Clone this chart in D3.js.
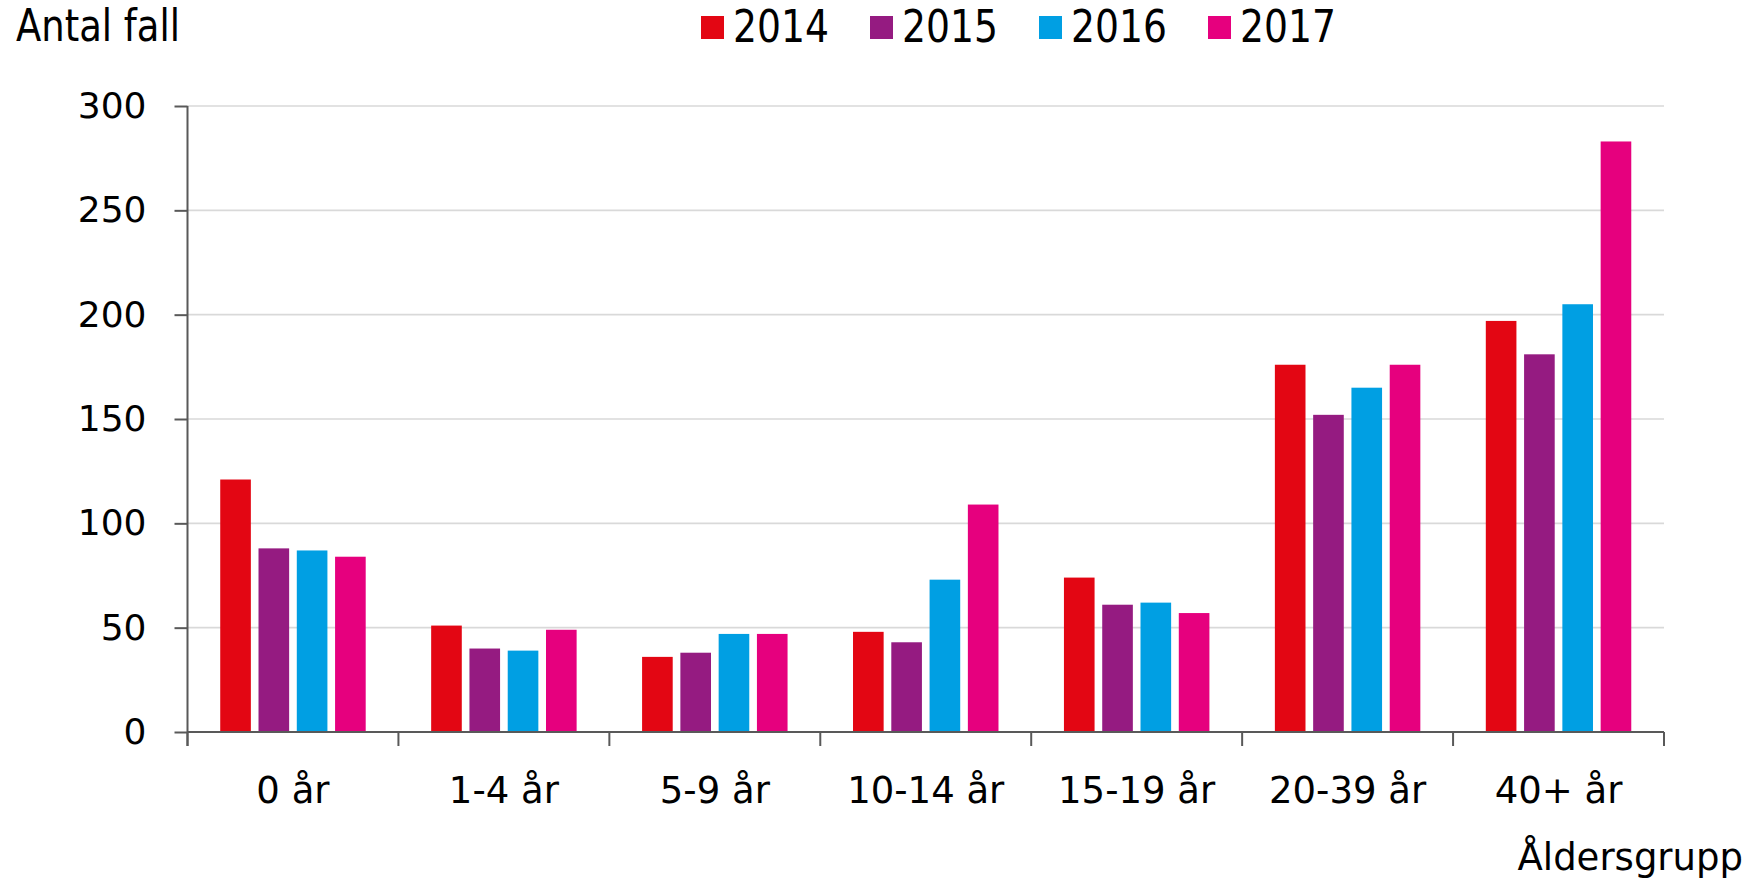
<!DOCTYPE html>
<html>
<head>
<meta charset="utf-8">
<script src="https://cdn.jsdelivr.net/npm/d3@7"></script>
<style>
  body { margin: 0; background: #fff; }
  text { font-family: 'DejaVu Sans', Verdana, sans-serif; fill: #000; }
</style>
</head>
<body>
<svg id="chart" width="1750" height="883"></svg>
<script>
const ageGroups = ['0 år', '1-4 år', '5-9 år', '10-14 år', '15-19 år', '20-39 år', '40+ år']
const years = ['2014', '2015', '2016', '2017']
const values2014 = [121, 51, 36, 48, 74, 176, 197]
const values2015 = [88, 40, 38, 43, 61, 152, 181]
const values2016 = [87, 39, 47, 73, 62, 165, 205]
const values2017 = [84, 49, 47, 109, 57, 176, 283]
const yTicks = [0, 50, 100, 150, 200, 250, 300]
const colors = ['#e30613', '#951b81', '#009fe3', '#e6007e']

const seriesValues = [values2014, values2015, values2016, values2017]

const svg = d3.select('#chart')
const margin = { left: 187.5, right: 86, top: 106, bottom: 151 }
const width = 1750
const height = 883

const x = d3.scaleBand().domain(ageGroups).range([margin.left, width - margin.right])
const xInner = d3.scaleBand().domain(years).range([0, x.bandwidth()]).paddingInner(0.2).paddingOuter(0.855)
const y = d3.scaleLinear().domain([0, 300]).range([height - margin.bottom, margin.top])

const axisColor = '#595959'

// gridlines
svg.append('g')
  .selectAll('line')
  .data(yTicks.filter(d => d > 0))
  .join('line')
  .attr('x1', margin.left)
  .attr('x2', width - margin.right)
  .attr('y1', d => y(d))
  .attr('y2', d => y(d))
  .attr('stroke', '#d9d9d9')
  .attr('stroke-width', 1.6)

// bars
const groups = svg.append('g')
  .selectAll('g')
  .data(ageGroups)
  .join('g')
  .attr('transform', d => `translate(${x(d)},0)`)

groups.selectAll('rect')
  .data((d, i) => years.map((yr, j) => ({ year: yr, value: seriesValues[j][i], color: colors[j] })))
  .join('rect')
  .attr('x', d => xInner(d.year))
  .attr('width', xInner.bandwidth())
  .attr('y', d => y(d.value))
  .attr('height', d => y(0) - y(d.value))
  .attr('fill', d => d.color)

// y axis
const yAxis = svg.append('g')
  .attr('transform', `translate(${margin.left},0)`)
  .call(d3.axisLeft(y).tickValues(yTicks).tickSize(13).tickPadding(28))
yAxis.select('.domain').attr('stroke', axisColor).attr('stroke-width', 2)
  .attr('d', `M0,${y(300)}V${y(0) + 14}`)
yAxis.selectAll('.tick line').attr('stroke', axisColor).attr('stroke-width', 2)
yAxis.selectAll('.tick text')
  .attr('font-size', 36)
  .attr('font-family', "'DejaVu Sans', Verdana, sans-serif")
  .attr('fill', '#000')

// x axis
const xAxisG = svg.append('g').attr('transform', `translate(0,${y(0)})`)
xAxisG.append('line')
  .attr('x1', margin.left)
  .attr('x2', width - margin.right)
  .attr('stroke', axisColor)
  .attr('stroke-width', 2)

const boundaries = ageGroups.map(d => x(d)).concat([x(ageGroups[ageGroups.length - 1]) + x.bandwidth()])
xAxisG.selectAll('.xtick')
  .data(boundaries)
  .join('line')
  .attr('class', 'xtick')
  .attr('x1', d => d)
  .attr('x2', d => d)
  .attr('y1', 0)
  .attr('y2', 14)
  .attr('stroke', axisColor)
  .attr('stroke-width', 2)

xAxisG.selectAll('.xlabel')
  .data(ageGroups)
  .join('text')
  .attr('class', 'xlabel')
  .attr('x', d => x(d) + x.bandwidth() / 2)
  .attr('y', 71)
  .attr('text-anchor', 'middle')
  .attr('font-size', 37)
  .text(d => d)

// axis titles
svg.append('text')
  .attr('x', 16)
  .attr('y', 41)
  .attr('font-size', 44)
  .attr('textLength', 164)
  .attr('lengthAdjust', 'spacingAndGlyphs')
  .text('Antal fall')

svg.append('text')
  .attr('x', 1743)
  .attr('y', 870)
  .attr('text-anchor', 'end')
  .attr('font-size', 37)
  .text('Åldersgrupp')

// legend
const legend = svg.append('g').attr('transform', 'translate(701,0)')
const legendItem = legend.selectAll('g')
  .data(years)
  .join('g')
  .attr('transform', (d, i) => `translate(${i * 169},0)`)

legendItem.append('rect')
  .attr('x', 0)
  .attr('y', 16)
  .attr('width', 23)
  .attr('height', 23)
  .attr('fill', (d, i) => colors[i])

legendItem.append('text')
  .attr('x', 32)
  .attr('y', 42)
  .attr('font-size', 45)
  .attr('textLength', 96)
  .attr('lengthAdjust', 'spacingAndGlyphs')
  .text(d => d)
</script>
</body>
</html>
